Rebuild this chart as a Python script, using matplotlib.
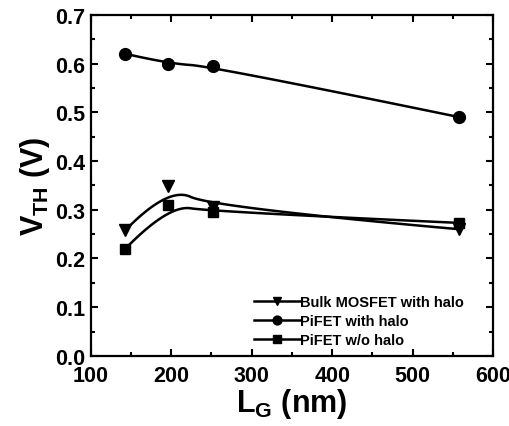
import numpy as np
import matplotlib
matplotlib.use('Agg')
import matplotlib.pyplot as plt

# 数据
lg = [143, 196, 252, 558]
vth_bulk = [0.258, 0.348, 0.305, 0.260]
vth_pifet_halo = [0.620, 0.600, 0.594, 0.490]
vth_pifet_nohalo = [0.220, 0.310, 0.296, 0.273]

plt.rcParams['font.family'] = 'Liberation Sans'
plt.rcParams['font.weight'] = 'bold'
plt.rcParams['mathtext.fontset'] = 'custom'
plt.rcParams['mathtext.rm'] = 'Liberation Sans:bold'
plt.rcParams['mathtext.it'] = 'Liberation Sans:bold'
plt.rcParams['mathtext.bf'] = 'Liberation Sans:bold'


def bspline2(xs, ys, n=60):
    # clamped quadratic B-spline, data points as control points
    p = np.column_stack([xs, ys]).astype(float)
    m = len(p)
    starts = [p[0]] + [(p[i] + p[i + 1]) / 2 for i in range(1, m - 2)]
    ends = [(p[i] + p[i + 1]) / 2 for i in range(1, m - 2)] + [p[-1]]
    t = np.linspace(0, 1, n)[:, None]
    out = []
    for k in range(m - 2):
        a, c, b = starts[k], p[k + 1], ends[k]
        out.append((1 - t) ** 2 * a + 2 * t * (1 - t) * c + t ** 2 * b)
    out = np.vstack(out)
    return out[:, 0], out[:, 1]


fig = plt.figure(figsize=(5.10, 4.27), dpi=100)
ax = fig.add_axes([0.178, 0.164, 0.789, 0.799])

series = [
    (vth_bulk, 'v', 8.5, 'Bulk MOSFET with halo'),
    (vth_pifet_halo, 'o', 8.5, 'PiFET with halo'),
    (vth_pifet_nohalo, 's', 7, 'PiFET w/o halo'),
]
for ys, mk, ms, lab in series:
    cx, cy = bspline2(lg, ys)
    ax.plot(cx, cy, color='black', lw=1.8)
    ax.plot(lg, ys, linestyle='none', marker=mk, ms=ms, color='black')
    ax.plot([], [], color='black', lw=1.8, marker=mk, ms=ms * 0.75, label=lab)

ax.set_xlim(100, 600)
ax.set_ylim(0.0, 0.7)
ax.set_xticks(np.arange(100, 601, 100))
ax.set_xticks(np.arange(150, 600, 100), minor=True)
ax.set_yticks(np.arange(0, 0.71, 0.1))
ax.set_yticks(np.arange(0.05, 0.7, 0.1), minor=True)
ax.yaxis.set_major_formatter(matplotlib.ticker.FormatStrFormatter('%.1f'))

ax.tick_params(which='both', direction='in', top=True, right=True, width=1.5,
               labelsize=15.5)
ax.tick_params(axis='x', pad=6.5)
ax.tick_params(axis='y', pad=4)
ax.tick_params(which='major', length=5)
ax.tick_params(which='minor', length=3)
for s in ax.spines.values():
    s.set_linewidth(1.6)

ax.set_xlabel(r'L$_{\mathrm{G}}$ (nm)', fontsize=22, fontweight='bold', labelpad=0)
ax.set_ylabel(r'V$_{\mathrm{TH}}$ (V)', fontsize=22, fontweight='bold', labelpad=2)

ax.legend(loc='lower right', frameon=False, fontsize=10.5, handlelength=3.2,
          handletextpad=0.0, labelspacing=0.35, borderaxespad=0.2,
          bbox_to_anchor=(0.95, 0.0))

fig.savefig('out.png', dpi=100)
